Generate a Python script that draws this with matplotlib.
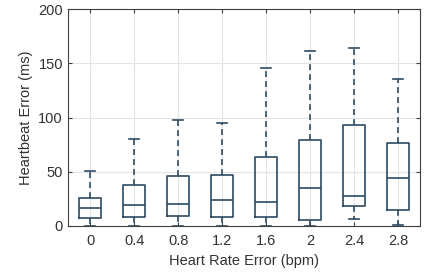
import matplotlib
matplotlib.use("Agg")
import matplotlib.pyplot as plt

# values
labels = ["0", "0.4", "0.8", "1.2", "1.6", "2", "2.4", "2.8"]
q1 = [6.8, 8.3, 9.3, 8.0, 8.0, 5.3, 18.0, 14.2]
med = [16.4, 18.9, 19.8, 23.5, 21.7, 34.9, 27.2, 44.4]
q3 = [25.6, 37.7, 45.7, 47.2, 63.3, 79.0, 93.0, 76.9]
whislo = [0.0, 0.0, 0.0, 0.0, 0.0, 0.0, 5.9, 0.5]
whishi = [50.6, 80.3, 98.1, 95.0, 146.0, 161.8, 164.5, 136.0]

plt.rcParams['font.family'] = ['Liberation Sans', 'DejaVu Sans']
plt.rcParams['font.size'] = 10.5

col = '#2e4a62'
stats = []
for i in range(len(labels)):
    stats.append(dict(label=labels[i], q1=q1[i], med=med[i], q3=q3[i],
                      whislo=whislo[i], whishi=whishi[i], fliers=[]))

fig = plt.figure(figsize=(4.28, 2.76), dpi=100)
ax = fig.add_axes([0.16, 0.182, 0.821, 0.784])
ax.bxp(stats, widths=0.5, showfliers=False,
       boxprops=dict(color=col, linewidth=1.2),
       medianprops=dict(color=col, linewidth=1.2),
       whiskerprops=dict(color=col, linewidth=1.2, linestyle=(0, (3.5, 2.5))),
       capprops=dict(color=col, linewidth=1.2),
       capwidths=0.23)

ax.set_xlim(0.5, 8.5)
ax.set_ylim(0, 200)
ax.set_yticks([0, 50, 100, 150, 200])
ax.grid(True, color='#e3e3e3', linewidth=0.8)
ax.set_axisbelow(True)
ax.tick_params(direction='in', length=3, colors='#404040', labelcolor='#333333',
               top=True, right=True)
ax.tick_params(axis='x', pad=6)
ax.tick_params(axis='y', pad=4)
for s in ax.spines.values():
    s.set_color('#404040')
    s.set_linewidth(0.8)
ax.set_xlabel("Heart Rate Error (bpm)", color='#333333', labelpad=4)
ax.set_ylabel("Heartbeat Error (ms)", color='#333333', labelpad=4)

fig.savefig("out.png", dpi=100)
